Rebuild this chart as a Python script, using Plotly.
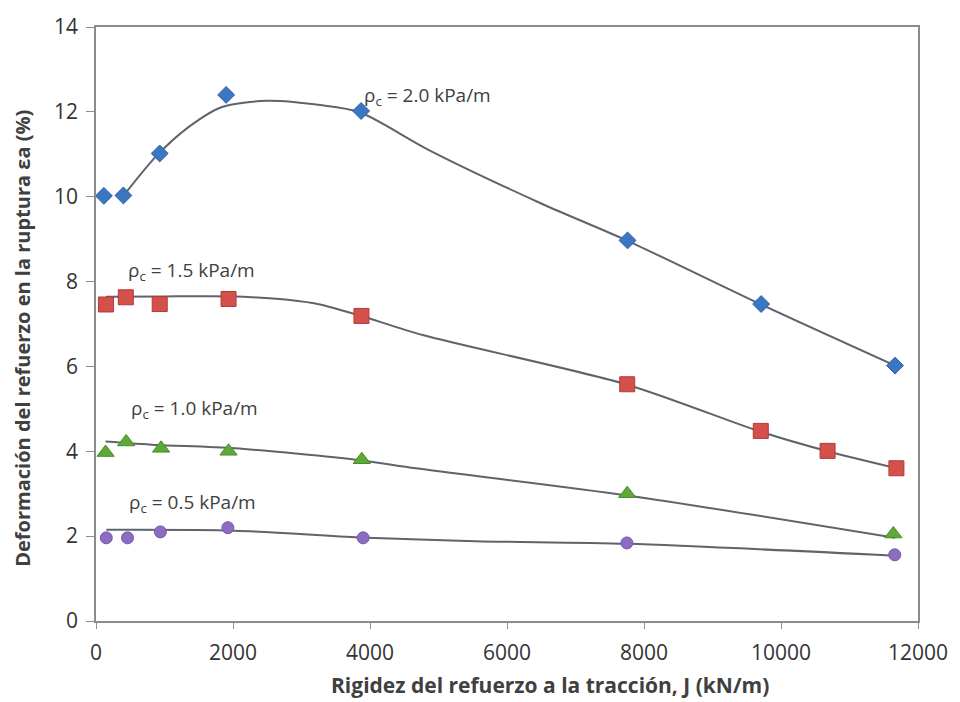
import plotly.graph_objects as go

# ---- data ----
j_blue = [115, 400, 930, 1900, 3870, 7760, 9710, 11665]
v_blue = [10.02, 10.03, 11.02, 12.40, 12.02, 8.97, 7.47, 6.02]

j_red = [145, 435, 930, 1935, 3875, 7755, 9705, 10680, 11685]
v_red = [7.46, 7.63, 7.47, 7.59, 7.19, 5.58, 4.48, 4.01, 3.60]

j_green = [140, 440, 950, 1935, 3880, 7755, 11640]
v_green = [3.97, 4.22, 4.07, 4.00, 3.80, 3.00, 2.05]

j_purple = [150, 460, 940, 1925, 3900, 7750, 11660]
v_purple = [1.96, 1.96, 2.10, 2.20, 1.96, 1.84, 1.56]

# smoothed curves
cj_blue = [390, 870, 1350, 1830, 2500, 3270, 3850, 4860, 6500, 7760, 9710, 11665]
cv_blue = [10.0, 10.94, 11.64, 12.11, 12.26, 12.16, 11.99, 11.10, 9.84, 8.96, 7.46, 6.02]

cj_red = [145, 1000, 2000, 2410, 2800, 3270, 3850, 4770, 7755, 9705, 10680, 11685]
cv_red = [7.64, 7.65, 7.65, 7.62, 7.57, 7.46, 7.20, 6.74, 5.57, 4.46, 4.00, 3.60]

cj_green = [140, 870, 2025, 3850, 4670, 7755, 11665]
cv_green = [4.23, 4.15, 4.07, 3.79, 3.60, 2.96, 1.96]

cj_purple = [150, 2025, 3850, 5540, 7750, 11665]
cv_purple = [2.15, 2.13, 1.97, 1.88, 1.82, 1.54]

x_ticks = [0, 2000, 4000, 6000, 8000, 10000, 12000]
y_ticks = [0, 2, 4, 6, 8, 10, 12, 14]

labels = ["ρ<sub>c</sub> = 2.0 kPa/m", "ρ<sub>c</sub> = 1.5 kPa/m",
          "ρ<sub>c</sub> = 1.0 kPa/m", "ρ<sub>c</sub> = 0.5 kPa/m"]
label_j = [3880, 440, 480, 455]
label_v = [12.38, 8.26, 4.99, 2.78]

FONT = "Open Sans"
TXT = "#404040"
CURVE = "#5e646c"

fig = go.Figure()

curves = [(cj_blue, cv_blue), (cj_red, cv_red), (cj_green, cv_green), (cj_purple, cv_purple)]
for cj, cv in curves:
    fig.add_trace(go.Scatter(x=cj, y=cv, mode="lines",
                             line=dict(color=CURVE, width=2, shape="spline", smoothing=0.8),
                             hoverinfo="skip", showlegend=False))

fig.add_trace(go.Scatter(x=j_blue, y=v_blue, mode="markers",
                         marker=dict(symbol="diamond", size=13, color="#3b76c3",
                                     line=dict(color="#2f62a6", width=1)), showlegend=False))
fig.add_trace(go.Scatter(x=j_red, y=v_red, mode="markers",
                         marker=dict(symbol="square", size=15, color="#d5504b",
                                     line=dict(color="#b03b37", width=1)), showlegend=False))
fig.add_trace(go.Scatter(x=j_green, y=v_green, mode="markers",
                         marker=dict(symbol="triangle-up", size=15, color="#5ea937",
                                     line=dict(color="#4a8a2a", width=1)), showlegend=False))
fig.add_trace(go.Scatter(x=j_purple, y=v_purple, mode="markers",
                         marker=dict(symbol="circle", size=12, color="#8c6cc0",
                                     line=dict(color="#7558a8", width=1)), showlegend=False))

for t, xj, yv in zip(labels, label_j, label_v):
    fig.add_annotation(x=xj, y=yv, text=t, showarrow=False, xanchor="left", yanchor="middle",
                       font=dict(family=FONT, size=19, color=TXT))

L, R, T, B = 96, 32, 21, 81
pw, ph = 960 - L - R, 702 - T - B
fig.add_annotation(x=(556 - L) / pw, y=-(686 - (702 - B)) / ph, xref="paper", yref="paper",
                   text="<b>Rigidez del refuerzo a la tracción, J (kN/m)</b>",
                   showarrow=False, xanchor="center", yanchor="middle",
                   font=dict(family=FONT, size=21, color=TXT))
fig.add_annotation(x=-(L - 22) / pw, y=((702 - B) - 335) / ph, xref="paper", yref="paper",
                   text="<b>Deformación del refuerzo en la ruptura εa (%)</b>", textangle=-90,
                   showarrow=False, xanchor="center", yanchor="middle",
                   font=dict(family=FONT, size=20, color=TXT))

fig.update_layout(
    width=960, height=702,
    margin=dict(l=L, r=R, t=T, b=B),
    paper_bgcolor="white", plot_bgcolor="white",
    font=dict(family=FONT, color=TXT),
    showlegend=False,
)

fig.update_xaxes(range=[0, 12000], tickvals=x_ticks, ticktext=[str(v) for v in x_ticks],
                 showgrid=False, zeroline=False, showline=True, linecolor="#8c8c8c", linewidth=1.5,
                 mirror=True, ticks="outside", ticklen=6, tickcolor="#8c8c8c",
                 tickfont=dict(family=FONT, size=21, color="#333333"), ticklabelstandoff=6)
fig.update_yaxes(range=[0, 14], tickvals=y_ticks, ticktext=[str(v) for v in y_ticks],
                 showgrid=False, zeroline=False, showline=True, linecolor="#8c8c8c", linewidth=1.5,
                 mirror=True, ticks="outside", ticklen=8, tickcolor="#8c8c8c",
                 tickfont=dict(family=FONT, size=21, color="#333333"), ticklabelstandoff=4)

fig.write_html("out.html")
